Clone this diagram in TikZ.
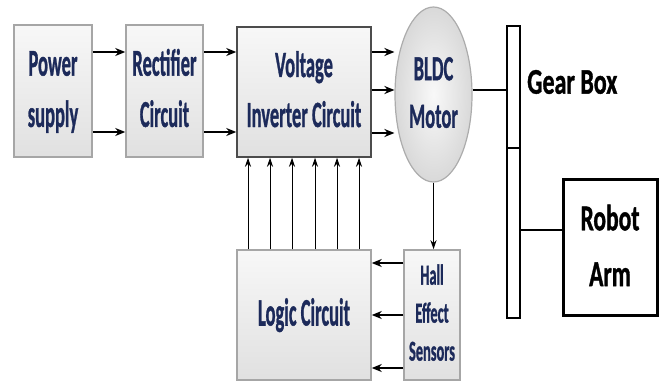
\documentclass[tikz,border=0pt]{standalone}
\usepackage{fontspec}
\setmainfont{Carlito}[BoldFont={Carlito Bold}]
\newfontfamily\heavyfont{Carlito Bold}[FakeBold=1.3]
\usetikzlibrary{arrows.meta,shapes.geometric}
\definecolor{navy}{HTML}{1C2A5A}
\newcommand{\stx}[2]{\scalebox{1}[#1]{\begin{tabular}{@{}c@{}}#2\end{tabular}}}
\tikzset{
  blk/.style={rectangle, draw=gray!70, line width=1.5pt, top color=gray!6, bottom color=gray!24, inner sep=0pt, text=navy, font=\heavyfont\fontsize{18.5}{25}\selectfont},
  blkdark/.style={blk, draw=black!70},
  motorshape/.style={ellipse, draw=gray!65, line width=1.2pt, inner color=gray!5, outer color=gray!30, inner sep=0pt, text=navy, font=\heavyfont\fontsize{18.5}{25}\selectfont},
  arr/.style={-{Stealth[length=10pt,width=8pt]}, line width=1.8pt},
  varr/.style={-{Stealth[length=9pt,width=6pt]}, line width=1pt},
  mech/.style={line width=2.6pt},
  barbox/.style={rectangle, draw=black, line width=2.4pt, fill=white, inner sep=0pt},
  labeltxt/.style={text=black, font=\heavyfont\fontsize{24}{36}\selectfont}
}
\begin{document}
\begin{tikzpicture}[x=1pt,y=-1pt]
\useasboundingbox (0,0) rectangle (668,385);
% blocks
\node[blk, minimum width=78pt, minimum height=132pt] (ps) at (53,91) {\stx{2.05}{Power\\supply}};
\node[blk, minimum width=77pt, minimum height=132pt] (rc) at (164.5,91) {\stx{2.05}{Rectifier\\Circuit}};
\node[blkdark, minimum width=134pt, minimum height=130pt] (vi) at (304,92) {\stx{2.0}{Voltage\\Inverter Circuit}};
\node[motorshape, minimum width=77pt, minimum height=175pt] (bldc) at (433.5,94.5) {\stx{1.9}{BLDC\\Motor}};
\node[blk, minimum width=134pt, minimum height=130pt] (lc) at (304,315) {\stx{2.1}{Logic Circuit}};
\node[blk, minimum width=56pt, minimum height=130pt, font=\heavyfont\fontsize{14.4}{19}\selectfont] (he) at (432,315) {\stx{2.0}{Hall\\Effect\\Sensors}};
% gear box bar
\node[barbox, minimum width=13pt, minimum height=122pt] (gb1) at (513.5,87) {};
\node[barbox, minimum width=13pt, minimum height=170pt] (gb2) at (513.5,233) {};
\node[labeltxt, anchor=west, inner sep=0pt] (gbt) at (527,82) {\scalebox{1}[1.5]{Gear Box}};
% robot arm
\node[rectangle, draw=black, line width=3pt, fill=white, minimum width=94pt, minimum height=136pt, inner sep=0pt, labeltxt, font=\heavyfont\fontsize{23.5}{36}\selectfont] (ra) at (610,247) {\stx{1.55}{Robot\\Arm}};
% arrows power -> rectifier -> inverter
\draw[arr] (ps.east |- 0,52) -- (rc.west |- 0,52);
\draw[arr] (ps.east |- 0,132) -- (rc.west |- 0,132);
\draw[arr] (rc.east |- 0,52) -- (vi.west |- 0,52);
\draw[arr] (rc.east |- 0,132) -- (vi.west |- 0,132);
% inverter -> motor
\draw[arr] (vi.east |- 0,52) -- (bldc.west |- 0,52);
\draw[arr] (vi.east |- 0,90) -- (bldc.west |- 0,90);
\draw[arr] (vi.east |- 0,133) -- (bldc.west |- 0,133);
% logic -> inverter
\foreach \xx in {248,270,292,315,337,359}
  \draw[varr] (lc.north -| \xx,0) -- (vi.south -| \xx,0);
% motor -> hall
\draw[varr] (bldc.south) -- (bldc.south |- he.north);
% hall -> logic
\foreach \yy in {263,315,368}
  \draw[arr] (he.west |- 0,\yy) -- (lc.east |- 0,\yy);
% mechanical links
\draw[mech] (bldc.east |- 0,90) -- (gb1.west |- 0,90);
\draw[mech] (gb2.east |- 0,230) -- (ra.west |- 0,230);
\end{tikzpicture}
\end{document}
